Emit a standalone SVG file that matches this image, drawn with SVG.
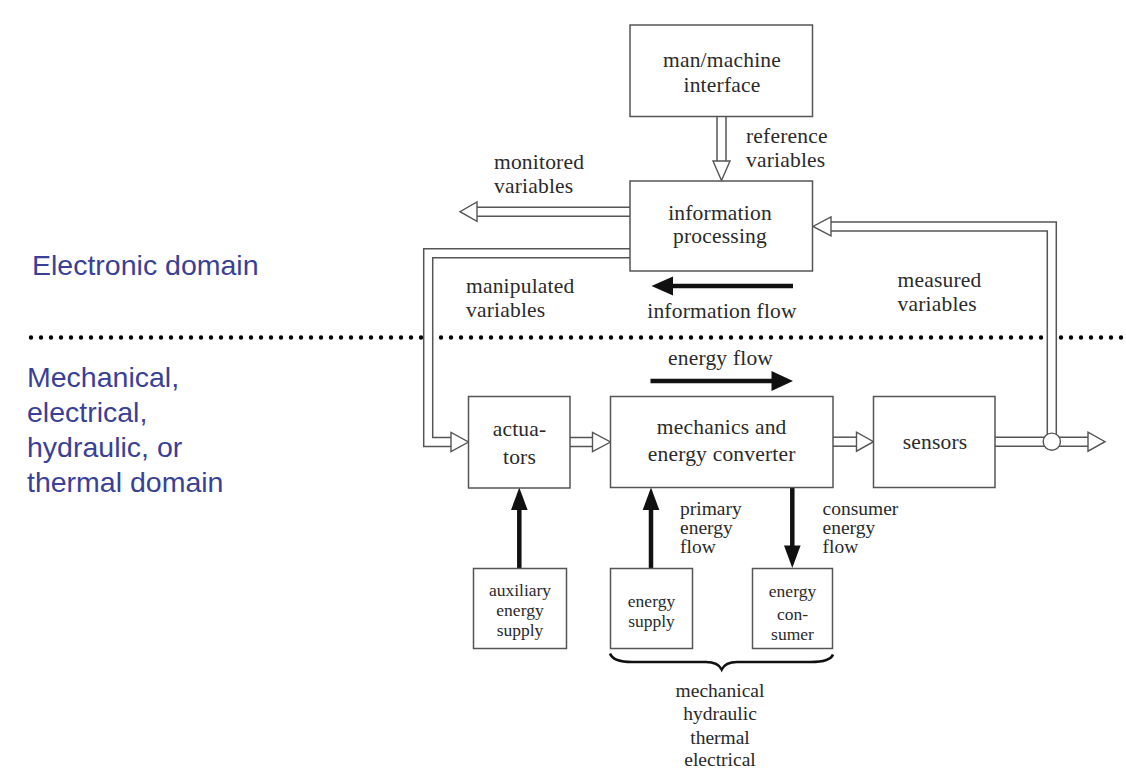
<svg xmlns="http://www.w3.org/2000/svg" width="1126" height="784" viewBox="0 0 1126 784">
<defs>
<style>
.box{fill:#fff;stroke:#555;stroke-width:1.5}
.t{font-family:"Liberation Serif","Times New Roman",serif;font-size:21.5px;letter-spacing:0.2px;fill:#2a2a2a}
.s{font-family:"Liberation Serif","Times New Roman",serif;font-size:19.5px;fill:#2a2a2a}
.xs{font-family:"Liberation Serif","Times New Roman",serif;font-size:17.5px;fill:#2a2a2a}
.c{text-anchor:middle}
.dom{font-family:"Liberation Sans",Arial,sans-serif;font-size:28.5px;fill:#3a3f98}
.dblo{fill:none;stroke:#555;stroke-width:10.5;stroke-linejoin:miter}
.dbli{fill:none;stroke:#fff;stroke-width:7.5;stroke-linejoin:miter}
.head{fill:#fff;stroke:#555;stroke-width:1.4;stroke-linejoin:miter}
.thick{fill:none;stroke:#111;stroke-width:4.5}
.thickhead{fill:#111;stroke:none}
</style>
</defs>
<rect width="1126" height="784" fill="#fff"/>

<!-- domain labels -->
<text class="dom" x="32" y="275">Electronic domain</text>
<text class="dom" x="27" y="387">Mechanical,</text>
<text class="dom" x="27" y="422">electrical,</text>
<text class="dom" x="27" y="457">hydraulic, or</text>
<text class="dom" x="27" y="492">thermal domain</text>

<!-- dotted separator -->
<line x1="31" y1="337.5" x2="1126" y2="337.5" stroke="#000" stroke-width="4.4" stroke-linecap="round" stroke-dasharray="0 10"/>

<!-- connectors -->
<g id="connectors">
  <!-- reference variables -->
  <path class="dblo" d="M721.5,116.5 V161"/>
  <path class="dbli" d="M721.5,116.5 V161"/>
  <polygon class="head" points="713,161 730,161 721.5,180.5"/>
  <!-- monitored variables -->
  <path class="dblo" d="M630,211.7 H477"/>
  <path class="dbli" d="M630,211.7 H477"/>
  <polygon class="head" points="477,202 477,221.4 460,211.7"/>
  <!-- manipulated variables -->
  <path class="dblo" d="M630,253.3 H428.2 V442 H451"/>
  <path class="dbli" d="M630,253.3 H428.2 V442 H451"/>
  <polygon class="head" points="451,432.5 451,451.5 468.5,442"/>
  <!-- actuators -> mechanics -->
  <path class="dblo" d="M570,442 H592.5"/>
  <path class="dbli" d="M570,442 H592.5"/>
  <polygon class="head" points="592.5,432.5 592.5,451.5 610.5,442"/>
  <!-- mechanics -> sensors -->
  <path class="dblo" d="M833,441.7 H856.5"/>
  <path class="dbli" d="M833,441.7 H856.5"/>
  <polygon class="head" points="856.5,432.2 856.5,451.2 873.5,441.7"/>
  <!-- sensors output -->
  <path class="dblo" d="M995,441.7 H1088"/>
  <path class="dbli" d="M995,441.7 H1088"/>
  <polygon class="head" points="1088,432.2 1088,451.2 1105,441.7"/>
  <!-- measured variables -->
  <path class="dblo" d="M1051.8,436 V226.4 H831"/>
  <path class="dbli" d="M1051.8,436 V226.4 H831"/>
  <polygon class="head" points="831,216.9 831,235.9 813,226.4"/>
  <circle cx="1051.8" cy="441.7" r="8.6" fill="#fff" stroke="#555" stroke-width="1.4"/>
  <!-- information flow -->
  <line class="thick" x1="793" y1="286" x2="670" y2="286"/>
  <polygon class="thickhead" points="673,276.5 673,295.5 651.5,286"/>
  <!-- energy flow -->
  <line class="thick" x1="650.5" y1="381" x2="774" y2="381"/>
  <polygon class="thickhead" points="771.5,371 771.5,391 793,381"/>
  <!-- auxiliary energy -->
  <line class="thick" x1="519.3" y1="568" x2="519.3" y2="506"/>
  <polygon class="thickhead" points="511,510 527.6,510 519.3,487.5"/>
  <!-- primary energy flow -->
  <line class="thick" x1="651" y1="568" x2="651" y2="506"/>
  <polygon class="thickhead" points="642.7,510 659.3,510 651,487.5"/>
  <!-- consumer energy flow -->
  <line class="thick" x1="792.3" y1="487.5" x2="792.3" y2="550"/>
  <polygon class="thickhead" points="784,545.5 800.6,545.5 792.3,568"/>
  <!-- brace -->
  <path d="M610,653.5 Q613,662 632,662 H706 Q718,662 721.7,669.5 Q725.4,662 737,662 H811 Q830,662 833,654.5" fill="none" stroke="#111" stroke-width="2.6"/>
</g>

<!-- nodes -->
<g id="man-machine">
  <rect class="box" x="630" y="25" width="182.5" height="91.5"/>
  <text class="t c" x="722" y="66.5">man/machine</text>
  <text class="t c" x="722" y="91.5">interface</text>
</g>
<g id="information-processing">
  <rect class="box" x="630" y="181" width="182.5" height="90"/>
  <text class="t c" x="720" y="219.5">information</text>
  <text class="t c" x="720" y="243">processing</text>
</g>
<g id="actuators">
  <rect class="box" x="468.5" y="396.5" width="101.5" height="91.5"/>
  <text class="t c" x="519.5" y="435.5">actua-</text>
  <text class="t c" x="519.5" y="464">tors</text>
</g>
<g id="mechanics">
  <rect class="box" x="610.5" y="396.5" width="222.5" height="91"/>
  <text class="t c" x="721.7" y="433.5">mechanics and</text>
  <text class="t c" x="721.7" y="461">energy converter</text>
</g>
<g id="sensors">
  <rect class="box" x="873.5" y="396.5" width="121.5" height="91"/>
  <text class="t c" x="935" y="448.5">sensors</text>
</g>
<g id="auxiliary-energy-supply">
  <rect class="box" x="473.5" y="568.5" width="93" height="80"/>
  <text class="xs c" x="520" y="596">auxiliary</text>
  <text class="xs c" x="520" y="616">energy</text>
  <text class="xs c" x="520" y="635.5">supply</text>
</g>
<g id="energy-supply">
  <rect class="box" x="610.5" y="568.5" width="82" height="80"/>
  <text class="xs c" x="651.5" y="606.5">energy</text>
  <text class="xs c" x="651.5" y="626.5">supply</text>
</g>
<g id="energy-consumer">
  <rect class="box" x="752.5" y="568.5" width="80" height="80"/>
  <text class="xs c" x="792.5" y="597">energy</text>
  <text class="xs c" x="792.5" y="619.5">con-</text>
  <text class="xs c" x="792.5" y="640">sumer</text>
</g>

<!-- labels -->
<g id="labels">
  <text class="t" x="746" y="143">reference</text>
  <text class="t" x="746" y="166.5">variables</text>
  <text class="t" x="494" y="169">monitored</text>
  <text class="t" x="494" y="192.5">variables</text>
  <text class="t" x="466" y="293">manipulated</text>
  <text class="t" x="466" y="317">variables</text>
  <text class="t c" x="722" y="317.5">information flow</text>
  <text class="t" x="897.5" y="287">measured</text>
  <text class="t" x="897.5" y="310.5">variables</text>
  <text class="t" x="668" y="365">energy flow</text>
  <text class="s" x="680" y="515">primary</text>
  <text class="s" x="680" y="534">energy</text>
  <text class="s" x="680" y="553">flow</text>
  <text class="s" x="822.5" y="515">consumer</text>
  <text class="s" x="822.5" y="534">energy</text>
  <text class="s" x="822.5" y="553">flow</text>
  <text class="s c" x="720" y="696.5">mechanical</text>
  <text class="s c" x="720" y="720">hydraulic</text>
  <text class="s c" x="720" y="743.5">thermal</text>
  <text class="s c" x="720" y="766">electrical</text>
</g>
</svg>
